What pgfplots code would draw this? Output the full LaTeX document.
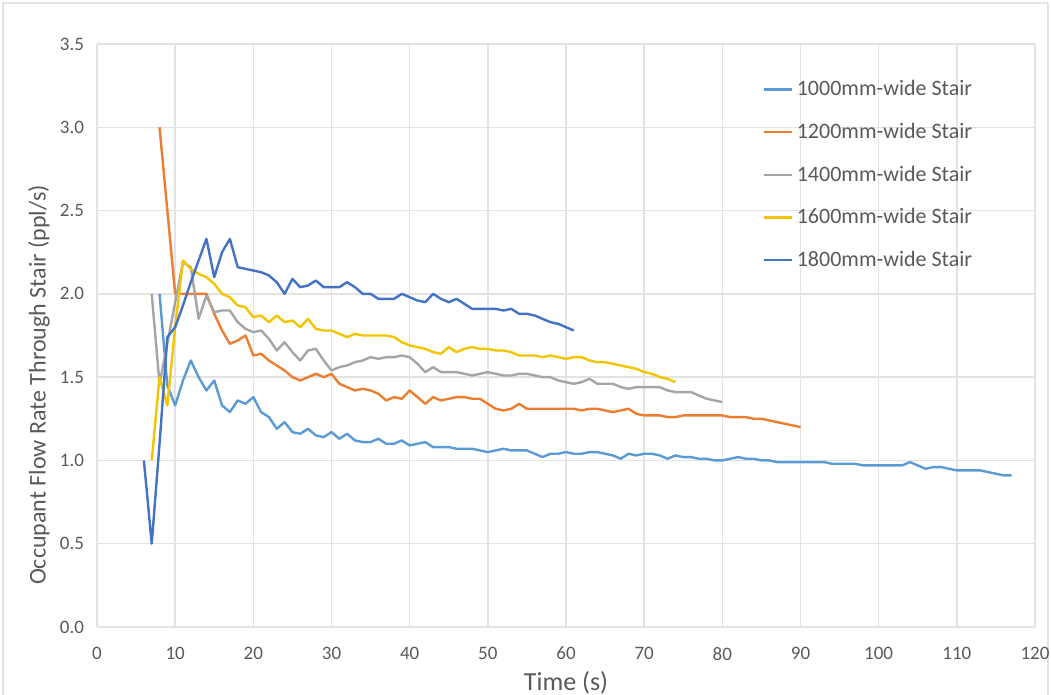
\documentclass[border=0pt]{standalone}
\usepackage{fontspec}
\setmainfont{Carlito}
\usepackage{pgfplots}
\pgfplotsset{compat=1.18}
\definecolor{cA}{HTML}{5B9BD5}
\definecolor{cB}{HTML}{ED7D31}
\definecolor{cC}{HTML}{A5A5A5}
\definecolor{cD}{HTML}{F2C500}
\definecolor{cE}{HTML}{4472C4}
\definecolor{txt}{HTML}{595959}
\definecolor{grd}{HTML}{E3E3E3}
\begin{document}
\begin{tikzpicture}
\useasboundingbox (-48.5pt,-34pt) rectangle (477pt,313.5pt);
\draw[grd,line width=0.6pt] (-47pt,-40pt) rectangle (475.5pt,312pt);
\begin{axis}[
  scale only axis,
  width=469pt, height=291.5pt,
  xmin=0, xmax=120, ymin=0, ymax=3.5,
  xtick={0,10,...,120},
  ytick={0,0.5,...,3.5},
  yticklabel style={/pgf/number format/fixed, /pgf/number format/fixed zerofill, /pgf/number format/precision=1},
  /pgf/number format/assume math mode=true,
  grid=major,
  major grid style={grd, line width=0.7pt},
  axis line style={draw=none},
  tick style={draw=none},
  ticklabel style={font=\fontsize{9.5}{11}\selectfont, text=txt},
  xticklabel style={yshift=-6.5pt},
  yticklabel style={xshift=-3pt},
  xlabel={Time (s)},
  ylabel={Occupant Flow Rate Through Stair (ppl/s)},
  every axis x label/.style={at={(axis description cs:0.5,0)}, anchor=center, yshift=-28pt,
    font=\fontsize{13}{15}\selectfont, text=txt},
  every axis y label/.style={at={(axis description cs:-0.062,0.415)}, anchor=center, rotate=90,
    font=\fontsize{12}{14}\selectfont, text=txt},
  legend style={at={(axis description cs:0.709,0.945)}, anchor=north west,
    draw=none, fill=none, font=\fontsize{11}{13}\selectfont, text=txt,
    row sep=8.2pt, inner sep=0pt},
  legend cell align=left,
  legend image code/.code={\draw[#1] (0pt,0pt) -- (14pt,0pt);},
  every axis plot/.append style={line width=1.2pt, line join=round, mark=none},
]
\addplot[cA] coordinates {
(8,2.0)(9,1.45)(10,1.33)(11,1.48)(12,1.6)(13,1.5)(14,1.42)(15,1.48)(16,1.33)(17,1.29)
(18,1.36)(19,1.34)(20,1.38)(21,1.29)(22,1.26)(23,1.19)(24,1.23)(25,1.17)(26,1.16)(27,1.19)
(28,1.15)(29,1.14)(30,1.17)(31,1.13)(32,1.16)(33,1.12)(34,1.11)(35,1.11)(36,1.13)(37,1.1)
(38,1.1)(39,1.12)(40,1.09)(41,1.1)(42,1.11)(43,1.08)(44,1.08)(45,1.08)(46,1.07)(47,1.07)
(48,1.07)(49,1.06)(50,1.05)(51,1.06)(52,1.07)(53,1.06)(54,1.06)(55,1.06)(56,1.04)(57,1.02)
(58,1.04)(59,1.04)(60,1.05)(61,1.04)(62,1.04)(63,1.05)(64,1.05)(65,1.04)(66,1.03)(67,1.01)
(68,1.04)(69,1.03)(70,1.04)(71,1.04)(72,1.03)(73,1.01)(74,1.03)(75,1.02)(76,1.02)(77,1.01)
(78,1.01)(79,1.0)(80,1.0)(81,1.01)(82,1.02)(83,1.01)(84,1.01)(85,1.0)(86,1.0)(87,0.99)
(88,0.99)(89,0.99)(90,0.99)(91,0.99)(92,0.99)(93,0.99)(94,0.98)(95,0.98)(96,0.98)(97,0.98)
(98,0.97)(99,0.97)(100,0.97)(101,0.97)(102,0.97)(103,0.97)(104,0.99)(105,0.97)(106,0.95)
(107,0.96)(108,0.96)(109,0.95)(110,0.94)(111,0.94)(112,0.94)(113,0.94)(114,0.93)(115,0.92)
(116,0.91)(117,0.91)};
\addlegendentry{1000mm-wide Stair}
\addplot[cB] coordinates {
(8,3.0)(9,2.5)(10,2.0)(11,2.0)(12,2.0)(13,2.0)(14,2.0)(15,1.88)(16,1.78)(17,1.7)(18,1.72)
(19,1.75)(20,1.63)(21,1.64)(22,1.6)(23,1.57)(24,1.54)(25,1.5)(26,1.48)(27,1.5)(28,1.52)
(29,1.5)(30,1.52)(31,1.46)(32,1.44)(33,1.42)(34,1.43)(35,1.42)(36,1.4)(37,1.36)(38,1.38)
(39,1.37)(40,1.42)(41,1.38)(42,1.34)(43,1.38)(44,1.36)(45,1.37)(46,1.38)(47,1.38)(48,1.37)
(49,1.37)(50,1.34)(51,1.31)(52,1.3)(53,1.31)(54,1.34)(55,1.31)(56,1.31)(57,1.31)(58,1.31)
(59,1.31)(60,1.31)(61,1.31)(62,1.3)(63,1.31)(64,1.31)(65,1.3)(66,1.29)(67,1.3)(68,1.31)
(69,1.28)(70,1.27)(71,1.27)(72,1.27)(73,1.26)(74,1.26)(75,1.27)(76,1.27)(77,1.27)(78,1.27)
(79,1.27)(80,1.27)(81,1.26)(82,1.26)(83,1.26)(84,1.25)(85,1.25)(86,1.24)(87,1.23)(88,1.22)
(89,1.21)(90,1.2)};
\addlegendentry{1200mm-wide Stair}
\addplot[cC] coordinates {
(7,2.0)(8,1.46)(9,1.7)(10,1.95)(11,2.19)(12,2.16)(13,1.85)(14,1.99)(15,1.89)(16,1.9)
(17,1.9)(18,1.83)(19,1.79)(20,1.77)(21,1.78)(22,1.73)(23,1.66)(24,1.71)(25,1.65)(26,1.6)
(27,1.66)(28,1.67)(29,1.6)(30,1.54)(31,1.56)(32,1.57)(33,1.59)(34,1.6)(35,1.62)(36,1.61)
(37,1.62)(38,1.62)(39,1.63)(40,1.62)(41,1.58)(42,1.53)(43,1.56)(44,1.53)(45,1.53)(46,1.53)
(47,1.52)(48,1.51)(49,1.52)(50,1.53)(51,1.52)(52,1.51)(53,1.51)(54,1.52)(55,1.52)(56,1.51)
(57,1.5)(58,1.5)(59,1.48)(60,1.47)(61,1.46)(62,1.47)(63,1.49)(64,1.46)(65,1.46)(66,1.46)
(67,1.44)(68,1.43)(69,1.44)(70,1.44)(71,1.44)(72,1.44)(73,1.42)(74,1.41)(75,1.41)(76,1.41)
(77,1.39)(78,1.37)(79,1.36)(80,1.35)};
\addlegendentry{1400mm-wide Stair}
\addplot[cD] coordinates {
(7,1.0)(8,1.5)(9,1.33)(10,1.8)(11,2.2)(12,2.15)(13,2.12)(14,2.1)(15,2.06)(16,2.0)(17,1.98)
(18,1.93)(19,1.92)(20,1.86)(21,1.87)(22,1.83)(23,1.87)(24,1.83)(25,1.84)(26,1.8)(27,1.85)
(28,1.79)(29,1.78)(30,1.78)(31,1.76)(32,1.74)(33,1.76)(34,1.75)(35,1.75)(36,1.75)(37,1.75)
(38,1.74)(39,1.71)(40,1.69)(41,1.68)(42,1.67)(43,1.65)(44,1.64)(45,1.68)(46,1.65)(47,1.67)
(48,1.68)(49,1.67)(50,1.67)(51,1.66)(52,1.66)(53,1.65)(54,1.63)(55,1.63)(56,1.63)(57,1.62)
(58,1.63)(59,1.62)(60,1.61)(61,1.62)(62,1.62)(63,1.6)(64,1.59)(65,1.59)(66,1.58)(67,1.57)
(68,1.56)(69,1.55)(70,1.53)(71,1.52)(72,1.5)(73,1.49)(74,1.47)};
\addlegendentry{1600mm-wide Stair}
\addplot[cE] coordinates {
(6,1.0)(7,0.5)(8,1.1)(9,1.74)(10,1.8)(11,1.93)(12,2.07)(13,2.2)(14,2.33)(15,2.1)(16,2.25)
(17,2.33)(18,2.16)(19,2.15)(20,2.14)(21,2.13)(22,2.11)(23,2.07)(24,2.0)(25,2.09)(26,2.04)
(27,2.05)(28,2.08)(29,2.04)(30,2.04)(31,2.04)(32,2.07)(33,2.04)(34,2.0)(35,2.0)(36,1.97)
(37,1.97)(38,1.97)(39,2.0)(40,1.98)(41,1.96)(42,1.95)(43,2.0)(44,1.97)(45,1.95)(46,1.97)
(47,1.94)(48,1.91)(49,1.91)(50,1.91)(51,1.91)(52,1.9)(53,1.91)(54,1.88)(55,1.88)(56,1.87)
(57,1.85)(58,1.83)(59,1.82)(60,1.8)(61,1.78)};
\addlegendentry{1800mm-wide Stair}
\end{axis}
\end{tikzpicture}
\end{document}
